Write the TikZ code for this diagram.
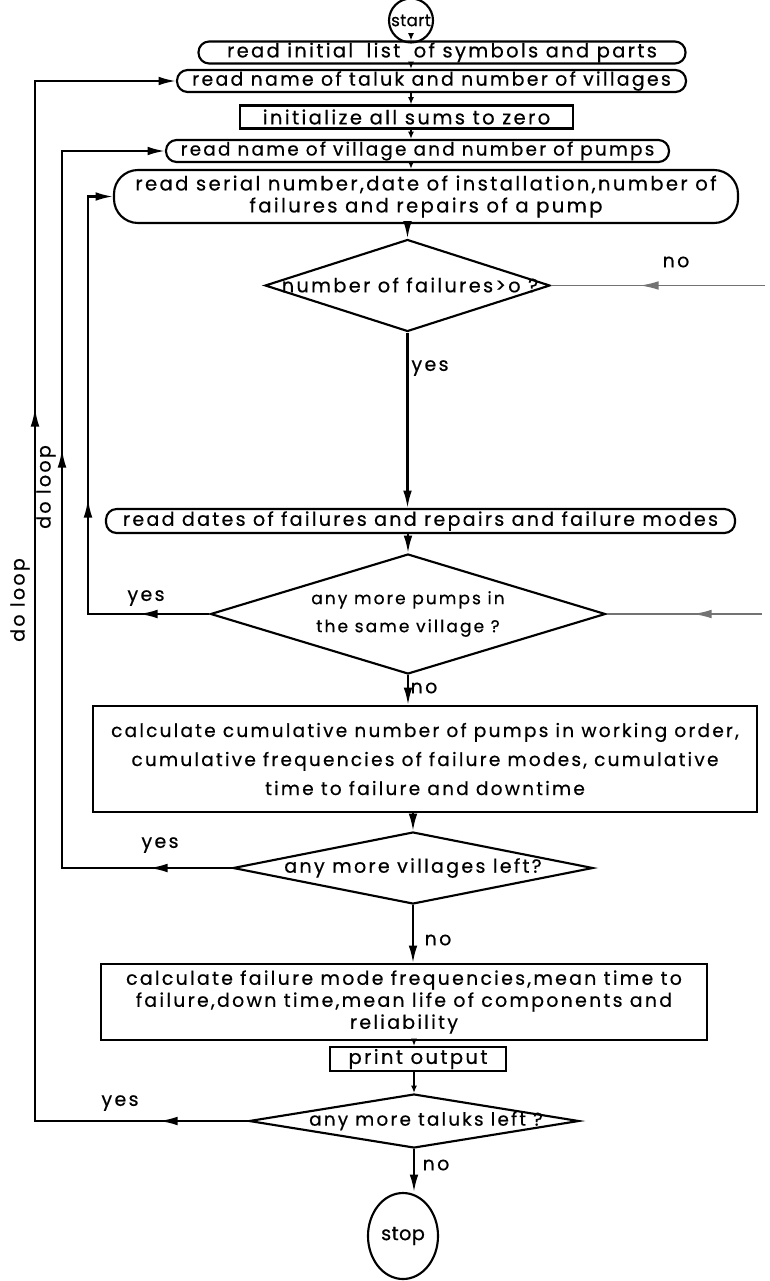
\documentclass[tikz,border=0pt]{standalone}
\usepackage{fontspec}
\setmainfont{Poppins}[LetterSpace=12.0, FakeBold=0.5]
\newfontfamily\plainf{Poppins}[LetterSpace=2.0, FakeBold=0.5]
\usetikzlibrary{shapes.geometric,arrows.meta,decorations.markings}
\newcommand{\fs}[2]{\fontsize{#1}{#2}\selectfont}
\tikzset{
  ln/.style={line width=1.6pt},
  tip/.style={-{Latex[length=13pt,width=6.5pt]}},
  stip/.style={-{Latex[length=5.5pt,width=4.5pt]}},
  rbox/.style={draw, ln, rounded corners=8pt, inner sep=0pt, align=center},
  sbox/.style={draw, ln, inner sep=0pt, align=center},
  dia/.style={draw, ln, diamond, inner sep=0pt},
  txt/.style={inner sep=0pt, align=center},
  faint/.style={line width=1.2pt, black!55},
  marr/.style={postaction={decorate}, decoration={markings, mark=at position #1 with {\arrow{Latex[length=14pt,width=6.5pt]}}}},
  marrr/.style 2 args={postaction={decorate}, decoration={markings,
      mark=at position #1 with {\arrow{Latex[length=14pt,width=6.5pt]}},
      mark=at position #2 with {\arrow{Latex[length=14pt,width=6.5pt]}}}},
  every node/.style={font=\fs{14.3}{16.5}},
}
\begin{document}
\begin{tikzpicture}[x=0.75pt,y=-0.75pt]
\useasboundingbox (0,0) rectangle (770,1281);

% nodes
\node[draw, ln, circle, minimum size=33pt, inner sep=0pt, font=\plainf\fs{12.5}{14}] (start) at (411,20.5) {start};
\node[rbox, minimum width=365.25pt, minimum height=16.5pt, font=\fs{14.6}{16.5}] (b1) at (442,52.5) {read initial\hspace{0.3em} list\hspace{0.3em} of symbols and parts};
\node[rbox, minimum width=381.75pt, minimum height=16.5pt, font=\fs{14.2}{16.5}] (b2) at (431.5,81) {read name of taluk and number of villages};
\node[sbox, minimum width=249.75pt, minimum height=17.25pt, font=\fs{14.7}{16.5}] (b3) at (406.5,117) {initialize all sums to zero};
\node[rbox, minimum width=377.25pt, minimum height=16.5pt, font=\fs{13.8}{16.5}] (b4) at (417.5,151) {read name of village and number of pumps};
\node[rbox, rounded corners=18pt, minimum width=468pt, minimum height=39.75pt, font=\fs{14.7}{16.5}] (b5) at (426,196.5) {read serial number,date of installation,number of\\failures and repairs of a pump};

\node[dia, minimum width=213.75pt, minimum height=69pt] (d1) at (407.5,285.5) {};
\node[txt, font=\fs{14.5}{16.5}] (d1t) at (410,285) {number of failures>o ?};

\node[rbox, minimum width=471.75pt, minimum height=18pt] (b6) at (420.5,521) {read dates of failures and repairs and failure modes};

\node[dia, minimum width=296.25pt, minimum height=90pt] (d2) at (408,614) {};
\node[txt, font=\fs{12.8}{21}] (d2t) at (d2) {any more pumps in\\the same village ?};

\node[sbox, minimum width=498pt, minimum height=79.5pt, font=\fs{13.9}{21.75}] (b7) at (425,759) {calculate cumulative number of pumps in working order,\\cumulative frequencies of failure modes, cumulative\\time to failure and downtime};

\node[dia, minimum width=270pt, minimum height=54pt] (d3) at (413,868) {};
\node[txt] (d3t) at (d3) {any more villages left?};

\node[sbox, minimum width=454.5pt, minimum height=57pt, font=\fs{14.2}{16.5}] (b8) at (404,1002) {calculate failure mode frequencies,mean time to\\failure,down time,mean life of components and\\reliability};

\node[sbox, minimum width=132pt, minimum height=18pt, font=\fs{14.7}{16.5}] (pr) at (418,1059) {print output};

\node[dia, minimum width=247.5pt, minimum height=40.5pt] (d4) at (414,1121) {};
\node[txt, font=\fs{13.8}{16.5}] (d4t) at (426,1121) {any more taluks left ?};

\node[draw, ln, ellipse, minimum width=52.5pt, minimum height=64.5pt, inner sep=0pt, font=\plainf\fs{14.5}{16.5}] (stop) at (403,1236) {stop};

% labels
\node[txt] (no1) at (676,262) {no};
\node[txt] (yes1) at (430,368) {yes};
\node[txt] (yes2) at (146,598) {yes};
\node[txt] (no2) at (424,688) {no};
\node[txt] (yes3) at (160,845) {yes};
\node[txt] (no3) at (438,940) {no};
\node[txt] (yes4) at (120,1103) {yes};
\node[txt] (no4) at (436,1165) {no};
\node[txt, rotate=90] (dl1) at (20,600) {do loop};
\node[txt, rotate=90] (dl2) at (46,487) {do loop};

% main flow
\draw[ln,stip] ([yshift=4pt]start.south) -- (start |- b1.north);
\draw[ln,stip] (b1.south -| start) -- (b2.north -| start);
\draw[ln,stip] (b2.south -| start) -- (b3.north -| start);
\draw[ln,stip] (b3.south -| start) -- (b4.north -| start);
\draw[ln,stip] (b4.south -| start) -- (b5.north -| start);
\draw[ln,tip] (b5.south -| d1.north) -- (d1.north);
\draw[ln,tip] (d1.south) -- (d1.south |- b6.north);
\draw[ln,tip] (b6.south -| d2.north) -- (d2.north);
\draw[ln,tip] (d2.south) -- (d2.south |- b7.north);
\draw[ln,tip] (b7.south -| d3.north) -- (d3.north);
\draw[ln,tip] (d3.south) -- (d3.south |- b8.north);
\draw[ln,stip] (b8.south -| d4.north) -- (pr.north -| d4.north);
\draw[ln,stip] (pr.south -| d4.north) -- (d4.north);
\draw[ln,tip] (d4.south) -- (d4.south |- stop.north);

% loops
\coordinate (in1) at (88,614);
\coordinate (in2) at (88,196.5);
\draw[ln,tip,marrr={52.9pt}{177.4pt}] (d2.west) -- (in1) -- (in2) -- (b5.west);
\coordinate (mid1) at (62,868);
\coordinate (mid2) at (62,151);
\draw[ln,tip,marrr={62.25pt}{441.75pt}] (d3.west) -- (mid1) -- (mid2) -- (b4.west);
\coordinate (out1) at (35,1121);
\coordinate (out2) at (35,81);
\draw[ln,tip,marrr={66.75pt}{694.5pt}] (d4.west) -- (out1) -- (out2) -- (b2.west);

% right side lines
\coordinate (r1) at (765,285.5);
\draw[faint,marr=93.75pt] (r1) -- (d1.east);
\coordinate (r2) at (762,614);
\draw[faint,marr=51.75pt] (r2) -- (d2.east);
\end{tikzpicture}
\end{document}
